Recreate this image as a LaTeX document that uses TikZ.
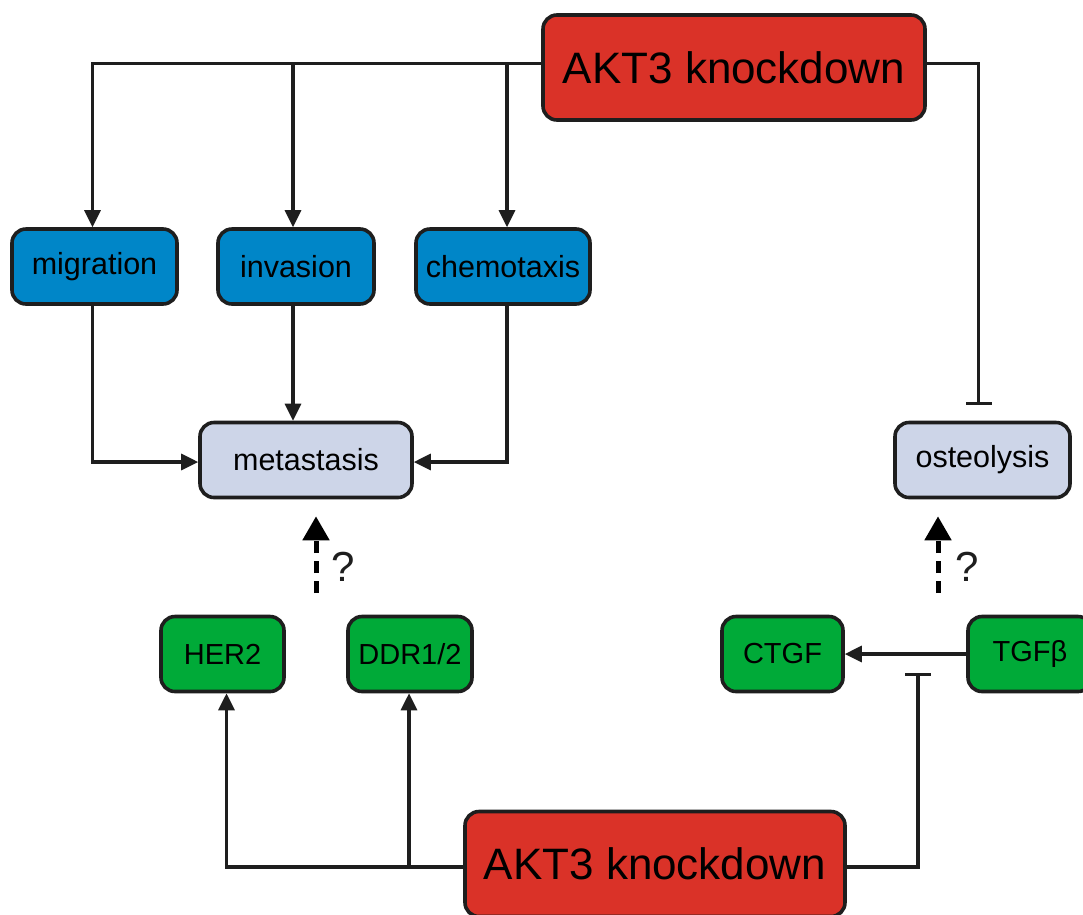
\documentclass[tikz,border=0pt]{standalone}
\usepackage{fontspec}
\setmainfont{Liberation Sans}
\usetikzlibrary{arrows.meta,calc}
\definecolor{kred}{RGB}{218,50,40}
\definecolor{kblue}{RGB}{0,134,200}
\definecolor{klav}{RGB}{205,213,232}
\definecolor{kgreen}{RGB}{0,170,56}
\definecolor{kline}{RGB}{30,30,30}
\tikzset{
  box/.style={draw=kline, line width=3.6pt, rounded corners=14pt, inner sep=0pt, text=black},
  redbox/.style={box, fill=kred, minimum width=382pt, minimum height=105pt, font=\fontsize{44}{50}\selectfont},
  bluebox/.style={box, fill=kblue, minimum height=75pt, font=\fontsize{30.5}{35}\selectfont},
  lavbox/.style={box, fill=klav, minimum height=75pt, font=\fontsize{30.5}{35}\selectfont},
  greenbox/.style={box, fill=kgreen, minimum height=75pt, font=\fontsize{29}{33}\selectfont},
  arr/.style={draw=kline, line width=3.2pt, -{Triangle[length=17pt,width=16pt]}},
  inh/.style={draw=kline, line width=3.2pt, -{Bar[width=26pt,line width=3.2pt]}},
  dasharr/.style={draw=black, line width=5pt, dash pattern=on 12pt off 8pt, -{Triangle[length=24pt,width=26pt]}},
  qmark/.style={font=\fontsize{42}{46}\selectfont, text=kline}
}
\begin{document}
\begin{tikzpicture}[x=1pt,y=-1pt]
\clip (0,0) rectangle (1083,914);
\fill[white] (0,0) rectangle (1083,914);

\node[redbox] (akt1) at (734,67.5) {AKT3 knockdown};
\node[redbox, minimum width=380pt] (akt2) at (655,864) {AKT3 knockdown};

\node[bluebox, minimum width=165pt] (mig) at (94.5,266.5) {migration};
\node[bluebox, minimum width=156pt] (inv) at (296,266.5) {invasion};
\node[bluebox, minimum width=174pt] (chem) at (503,266.5) {chemotaxis};

\node[lavbox, minimum width=212pt] (meta) at (306,460) {metastasis};
\node[lavbox, minimum width=175pt] (ost) at (982.5,460) {osteolysis};

\node[greenbox, minimum width=123pt] (her) at (222.5,654) {HER2};
\node[greenbox, minimum width=124pt] (ddr) at (410,654) {DDR1/2};
\node[greenbox, minimum width=121pt] (ctgf) at (782.5,654) {CTGF};
\node[greenbox, minimum width=124pt] (tgf) at (1030,654) {TGFβ};

% shifted anchor points
\coordinate (tl) at ([yshift=4pt]akt1.west);
\coordinate (tr) at ([yshift=4pt]akt1.east);
\coordinate (migN) at ([xshift=-2pt]mig.north);
\coordinate (invN) at ([xshift=-3pt]inv.north);
\coordinate (chemN) at ([xshift=4pt]chem.north);
\coordinate (ostN) at ([xshift=-4pt]ost.north);
\coordinate (migS) at ([xshift=-2pt]mig.south);
\coordinate (invS) at ([xshift=-3pt]inv.south);
\coordinate (chemS) at ([xshift=4pt]chem.south);
\coordinate (metaW) at ([yshift=-2pt]meta.west);
\coordinate (metaE) at ([yshift=-2pt]meta.east);
\coordinate (bl) at ([yshift=-3pt]akt2.west);
\coordinate (br) at ([yshift=-3pt]akt2.east);
\coordinate (herS) at ([xshift=4pt]her.south);
\coordinate (ddrS) at ([xshift=-1pt]ddr.south);

% top connectors
\draw[arr] (tl) -| (migN);
\draw[arr] (tl -| invN) -- (invN);
\draw[arr] (tl -| chemN) -- (chemN);
\draw[inh, shorten >=16pt] (tr) -| (ostN);

% to metastasis
\draw[arr] (migS) |- (metaW);
\draw[arr] (invS) -- (invS |- meta.north);
\draw[arr] (chemS) |- (metaE);

% dashed question arrows
\coordinate (d1) at (316,593);
\coordinate (d2) at (938,593);
\draw[dasharr, shorten >=17pt] (d1) -- (d1 |- meta.south);
\draw[dasharr, shorten >=17pt] (d2) -- (d2 |- ost.south);
\node[qmark] (q1) at (343,567) {?};
\node[qmark] (q2) at (967,567) {?};

% TGF -> CTGF
\draw[arr] (tgf.west) -- (ctgf.east);
\coordinate (tbar) at (918,654);

% bottom connectors
\draw[arr] (bl) -| (herS);
\draw[arr] (bl -| ddrS) -- (ddrS);
\draw[inh, shorten >=19pt] (br) -| (tbar);
\end{tikzpicture}
\end{document}
